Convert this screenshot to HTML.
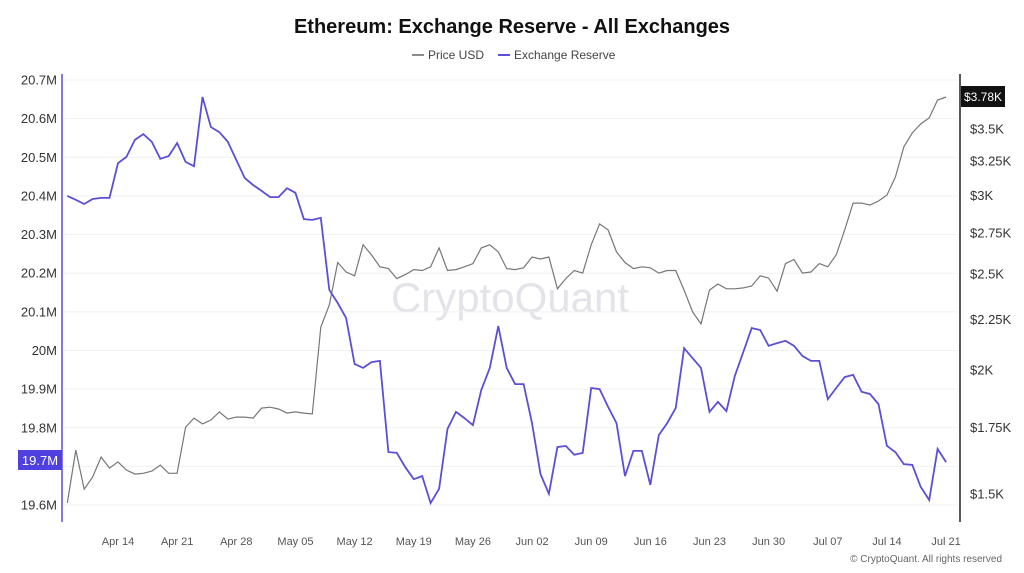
<!DOCTYPE html>
<html><head><meta charset="utf-8"><style>
body{margin:0;background:#fff;width:1024px;height:573px;overflow:hidden;font-family:"Liberation Sans",sans-serif}
svg{display:block}
</style></head><body>
<svg id="chart" width="1024" height="573">
<text x="512" y="33" text-anchor="middle" font-size="20" font-weight="bold" fill="#111">Ethereum: Exchange Reserve - All Exchanges</text>
<g>
<g><line x1="412" y1="55" x2="424" y2="55" stroke="#666" stroke-width="1.5"/><text x="428" y="59" font-size="12" fill="#444">Price USD</text></g>
<g><line x1="498" y1="55" x2="510" y2="55" stroke="#5b4fd8" stroke-width="2"/><text x="514" y="59" font-size="12" fill="#444">Exchange Reserve</text></g>
</g>
<text x="510" y="312" text-anchor="middle" font-size="42" fill="#e3e3ea">CryptoQuant</text>
<g id="grid"></g>
<g id="laxis"></g>
<g id="raxis"></g>
<g id="xaxis"></g>
<g id="series"></g>
<text x="1002" y="562" text-anchor="end" font-size="10" fill="#666">© CryptoQuant. All rights reserved</text>
</svg>
<script>
const reserveM=[20.400,20.39,20.379,20.392,20.395,20.395,20.485,20.501,20.545,20.560,
20.540,20.496,20.503,20.537,20.488,20.477,20.656,20.578,20.565,20.540,
20.493,20.446,20.428,20.413,20.397,20.397,20.420,20.408,20.340,20.338,
20.343,20.157,20.123,20.084,19.965,19.955,19.970,19.973,19.737,19.735,
19.698,19.667,19.675,19.605,19.642,19.797,19.841,19.825,19.807,19.898,
19.955,20.063,19.955,19.913,19.913,19.812,19.680,19.629,19.750,19.753,
19.730,19.735,19.903,19.900,19.854,19.812,19.675,19.740,19.740,19.652,
19.781,19.812,19.851,20.006,19.980,19.955,19.841,19.867,19.843,19.934,
19.996,20.058,20.053,20.012,20.019,20.025,20.012,19.986,19.973,19.973,
19.874,19.903,19.931,19.937,19.893,19.887,19.861,19.753,19.737,19.706,
19.704,19.647,19.613,19.745,19.711];
const priceK=[1.469,1.661,1.517,1.560,1.634,1.593,1.616,1.586,1.571,1.574,
1.582,1.604,1.574,1.574,1.752,1.789,1.765,1.781,1.815,1.785,
1.793,1.793,1.789,1.831,1.835,1.827,1.810,1.815,1.810,1.806,
2.210,2.326,2.567,2.511,2.489,2.675,2.613,2.542,2.531,2.473,
2.496,2.525,2.520,2.542,2.656,2.520,2.525,2.542,2.560,2.656,
2.675,2.631,2.531,2.525,2.536,2.600,2.588,2.600,2.415,2.473,
2.520,2.505,2.675,2.808,2.769,2.631,2.567,2.531,2.542,2.536,
2.505,2.520,2.520,2.408,2.289,2.226,2.408,2.442,2.415,2.415,
2.420,2.431,2.489,2.476,2.402,2.561,2.585,2.505,2.511,2.561,
2.542,2.613,2.769,2.947,2.947,2.933,2.961,3.002,3.131,3.357,
3.468,3.541,3.591,3.744,3.770];
const leftTicks=[20.7,20.6,20.5,20.4,20.3,20.2,20.1,20.0,19.9,19.8,19.6];
const leftTickLabels=["20.7M","20.6M","20.5M","20.4M","20.3M","20.2M","20.1M","20M","19.9M","19.8M","19.6M"];
const rightTicks=[3.5,3.25,3,2.75,2.5,2.25,2,1.75,1.5];
const rightTickLabels=["$3.5K","$3.25K","$3K","$2.75K","$2.5K","$2.25K","$2K","$1.75K","$1.5K"];
const xTickDays=[6,13,20,27,34,41,48,55,62,69,76,83,90,97,104];
const xTickLabels=["Apr 14","Apr 21","Apr 28","May 05","May 12","May 19","May 26","Jun 02","Jun 09","Jun 16","Jun 23","Jun 30","Jul 07","Jul 14","Jul 21"];
const lastReserveLabel="19.7M", lastPriceLabel="$3.78K";

const NS="http://www.w3.org/2000/svg";
const X0=67.3, DX=8.45;
const xs=d=>X0+d*DX;
const yL=v=>80+(20.7-v)*386.4;
const yR=p=>494-(Math.log(p)-Math.log(1.5))*430.8;
function mk(tag,attrs,parent,txt){const e=document.createElementNS(NS,tag);for(const k in attrs)e.setAttribute(k,attrs[k]);if(txt!==undefined)e.textContent=txt;parent.appendChild(e);return e;}
const grid=document.getElementById('grid'),la=document.getElementById('laxis'),ra=document.getElementById('raxis'),xa=document.getElementById('xaxis'),se=document.getElementById('series');
[20.7,20.6,20.5,20.4,20.3,20.2,20.1,20.0,19.9,19.8,19.7,19.6].forEach(v=>{
 const l=mk('line',{x1:63,x2:958,y1:yL(v),y2:yL(v),stroke:'#f0f0f0','stroke-width':1},grid);
 
 
});
leftTicks.forEach((v,i)=>{
 const t=mk('text',{x:57,y:yL(v)+4.5,'text-anchor':'end','font-size':13,fill:'#333'},la,leftTickLabels[i]);
 
 
});
mk('line',{x1:62,x2:62,y1:74,y2:522,stroke:'#5b4fd8','stroke-width':1.5},la);
rightTicks.forEach((v,i)=>{
 const t=mk('text',{x:970,y:yR(v)+4.5,'font-size':13,fill:'#333'},ra,rightTickLabels[i]);
 
 
});
mk('line',{x1:960,x2:960,y1:74,y2:522,stroke:'#222','stroke-width':1.5},ra);
xTickDays.forEach((d,i)=>{
 const t=mk('text',{x:xs(d),y:545,'text-anchor':'middle','font-size':11,fill:'#555'},xa,xTickLabels[i]);
 
 
});
const pp=mk('polyline',{points:priceK.map((p,i)=>xs(i).toFixed(1)+','+yR(p).toFixed(1)).join(' '),fill:'none',stroke:'#777','stroke-width':1.2},se);


const rp=mk('polyline',{points:reserveM.map((v,i)=>xs(i).toFixed(1)+','+yL(v).toFixed(1)).join(' '),fill:'none',stroke:'#5b4fd8','stroke-width':1.8},se);


const lb=mk('g',{},la);


mk('rect',{x:18,y:450,width:44,height:20,fill:'#5040e0'},lb);
mk('text',{x:40,y:465,'text-anchor':'middle','font-size':13,fill:'#fff'},lb,lastReserveLabel);
const rb=mk('g',{},ra);


mk('rect',{x:961,y:86,width:44,height:21,fill:'#111'},rb);
mk('text',{x:983,y:101,'text-anchor':'middle','font-size':12,fill:'#fff'},rb,lastPriceLabel);
</script>
</body></html>
